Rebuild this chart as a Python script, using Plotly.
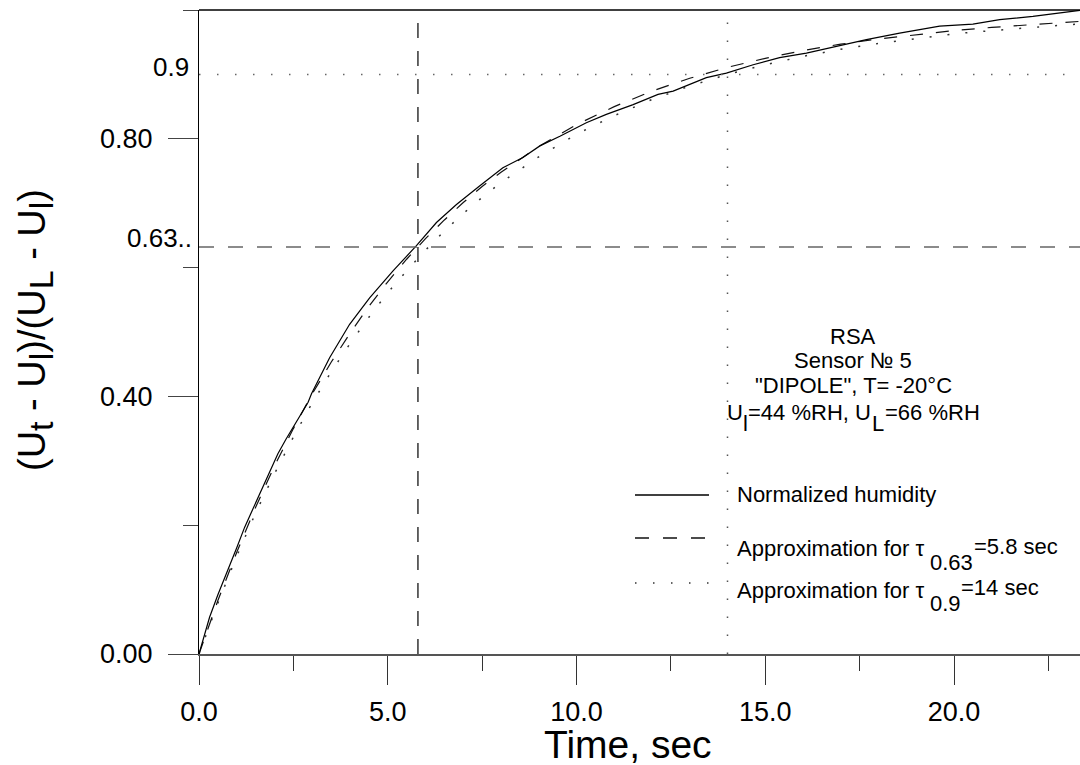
import plotly.graph_objects as go

# ---- data ----
t_meas = [0, 0.10, 0.28, 0.50, 0.77, 1.00, 1.21, 1.45, 1.70, 1.90, 2.09, 2.30, 2.54, 2.89,
          2.98, 3.46, 3.99, 4.52, 5.14, 5.76, 6.29, 6.82, 7.44, 8.05, 8.58, 9.03, 9.56,
          10.26, 10.79, 11.50, 12.16, 12.56, 13.44, 13.97, 14.68, 15.38, 16.09, 16.93,
          17.68, 18.56, 19.62, 20.50, 21.21, 22.09, 22.98, 23.40]
u_meas = [0, 0.020, 0.057, 0.092, 0.130, 0.165, 0.197, 0.228, 0.259, 0.286, 0.311, 0.333,
          0.357, 0.391, 0.404, 0.460, 0.512, 0.553, 0.595, 0.634, 0.670, 0.698, 0.727,
          0.755, 0.771, 0.789, 0.804, 0.825, 0.838, 0.853, 0.869, 0.874, 0.895, 0.902,
          0.915, 0.926, 0.933, 0.944, 0.954, 0.964, 0.975, 0.978, 0.985, 0.990, 0.996, 1.000]

t_appr = [0, 0.5, 1, 1.5, 2, 2.5, 3, 3.5, 4, 4.5, 5, 5.5, 6, 6.5, 7, 7.5, 8, 9, 10, 11, 12,
          13, 14, 15, 16, 17, 18, 19, 20, 21, 22, 23, 23.5]
u_appr063 = [0, 0.083, 0.158, 0.228, 0.292, 0.350, 0.404, 0.453, 0.498, 0.540, 0.578, 0.613,
             0.645, 0.674, 0.701, 0.726, 0.748, 0.788, 0.822, 0.850, 0.874, 0.894, 0.911,
             0.925, 0.937, 0.947, 0.955, 0.962, 0.968, 0.973, 0.977, 0.981, 0.983]
u_appr09 = [0, 0.079, 0.152, 0.219, 0.280, 0.337, 0.390, 0.438, 0.482, 0.523, 0.561, 0.595,
            0.627, 0.657, 0.684, 0.709, 0.732, 0.772, 0.807, 0.836, 0.861, 0.882, 0.900,
            0.915, 0.928, 0.939, 0.948, 0.956, 0.963, 0.968, 0.973, 0.977, 0.979]

tau063 = 5.8
tau09 = 14
level063 = 0.632
level09 = 0.9

x_tickvals = [0, 5, 10, 15, 20]
x_ticktext = ["0.0", "5.0", "10.0", "15.0", "20.0"]
x_minor = [2.5, 7.5, 12.5, 17.5, 22.5]
y_tickvals = [0, 0.4, 0.8]
y_ticktext = ["0.00", "0.40", "0.80"]
y_minor = [0.2, 0.6, 1.0]

FONT = "Liberation Sans, Arial, sans-serif"
W, H = 1080, 765
L, R, T, B = 199, 0, 10, 111
PW, PH = W - L - R, H - T - B
XMAX = PW / 37.75


def px(xp):
    return (xp - L) / PW


def py(yp):
    return (H - B - yp) / PH


def sub(s, size):
    return "<sub><span style='font-size:%dpx'>%s</span></sub>" % (size, s)


fig = go.Figure()

fig.add_trace(go.Scatter(x=t_appr, y=u_appr09, mode="lines",
                         line=dict(color="#333", width=1.5, dash="2px,16px"), showlegend=False))
fig.add_trace(go.Scatter(x=t_appr, y=u_appr063, mode="lines",
                         line=dict(color="#111", width=1.2, dash="13px,13px"), showlegend=False))
fig.add_trace(go.Scatter(x=t_meas, y=u_meas, mode="lines",
                         line=dict(color="#000", width=1.2), showlegend=False))

shapes = []
# reference lines
shapes.append(dict(type="line", xref="x", yref="y", x0=0, x1=XMAX, y0=level063, y1=level063,
                   line=dict(color="#666", width=1.5, dash="15px,14px")))
shapes.append(dict(type="line", xref="x", yref="y", x0=0, x1=XMAX, y0=level09, y1=level09,
                   line=dict(color="#666", width=1.5, dash="1.5px,16.5px")))
shapes.append(dict(type="line", xref="x", yref="y", x0=tau063, x1=tau063, y0=0, y1=1,
                   line=dict(color="#000", width=1.2, dash="15px,13px")))
shapes.append(dict(type="line", xref="x", yref="y", x0=tau09, x1=tau09, y0=0, y1=1,
                   line=dict(color="#555", width=1.5, dash="1.5px,16.5px")))
# top border
shapes.append(dict(type="line", xref="paper", yref="paper", x0=0, x1=1, y0=1, y1=1,
                   line=dict(color="#000", width=1.3)))
# legend samples
for yy, dash, col in [(495, "solid", "#000"), (538, "14px,14px", "#111"), (583, "1.5px,16.5px", "#333")]:
    shapes.append(dict(type="line", xref="paper", yref="paper", x0=px(635), x1=px(709),
                       y0=py(yy), y1=py(yy), line=dict(color=col, width=1.3, dash=dash)))

annotations = []


def ann(text, x, y, size, xanchor="center", angle=0):
    annotations.append(dict(text=text, xref="paper", yref="paper", x=px(x), y=py(y),
                            xanchor=xanchor, yanchor="middle", showarrow=False, textangle=angle,
                            font=dict(family=FONT, size=size, color="#000")))


ann("0.9", 191, 67, 26, xanchor="right")
ann("0.63..", 194, 238, 26, xanchor="right")

ann("Time, sec", 628, 744, 39)
ann("(U" + sub("t", 34) + " - U" + sub("l", 34) + ")/(U" + sub("L", 34) + " - U" + sub("l", 34) + ")",
    35, 330, 38, angle=-90)

ann("RSA", 853, 336, 22)
ann("Sensor № 5", 853, 360, 22)
ann("\"DIPOLE\", T= -20°C", 853, 385, 22)
# "U_l=44 %RH, U_L=66 %RH" with full-size, lowered subscripts
ann("U", 725, 412, 22, xanchor="left")
ann("l", 741, 424, 22, xanchor="left")
ann("=44 %RH, U", 746, 412, 22, xanchor="left")
ann("L", 870, 424, 22, xanchor="left")
ann("=66 %RH", 883, 412, 22, xanchor="left")

# legend texts
ann("Normalized humidity", 735, 495, 22, xanchor="left")
ann("Approximation for τ", 735, 548, 22, xanchor="left")
ann("0.63", 928, 562, 22, xanchor="left")
ann("=5.8 sec", 972, 546, 22, xanchor="left")
ann("Approximation for τ", 735, 590, 22, xanchor="left")
ann("0.9", 928, 603, 22, xanchor="left")
ann("=14 sec", 959, 587, 22, xanchor="left")

fig.update_layout(
    width=W, height=H,
    margin=dict(l=L, r=R, t=T, b=B, pad=0),
    paper_bgcolor="white", plot_bgcolor="white",
    font=dict(family=FONT, color="#000"),
    shapes=shapes, annotations=annotations,
    showlegend=False,
)

fig.update_xaxes(
    range=[0, XMAX], showgrid=False, zeroline=False,
    showline=True, linecolor="#555", linewidth=1.5,
    tickmode="array", tickvals=x_tickvals, ticktext=x_ticktext,
    ticks="outside", ticklen=29, tickwidth=1.3, tickcolor="#333",
    tickfont=dict(family=FONT, size=27, color="#000"),
    ticklabelstandoff=4,
    minor=dict(tickmode="array", tickvals=x_minor, ticks="outside", ticklen=15,
               tickwidth=1.3, tickcolor="#333"),
)
fig.update_yaxes(
    range=[0, 1.0], showgrid=False, zeroline=False,
    showline=True, linecolor="#000", linewidth=1.3,
    tickmode="array", tickvals=y_tickvals, ticktext=y_ticktext,
    ticks="outside", ticklen=30, tickwidth=1.3, tickcolor="#444",
    tickfont=dict(family=FONT, size=27, color="#000"),
    ticklabelstandoff=10,
    minor=dict(tickmode="array", tickvals=y_minor, ticks="outside", ticklen=15,
               tickwidth=1.3, tickcolor="#444"),
)

fig.write_html("out.html", config={"displayModeBar": False},
               post_script="document.body.style.margin='0px';document.body.style.overflow='hidden';")
